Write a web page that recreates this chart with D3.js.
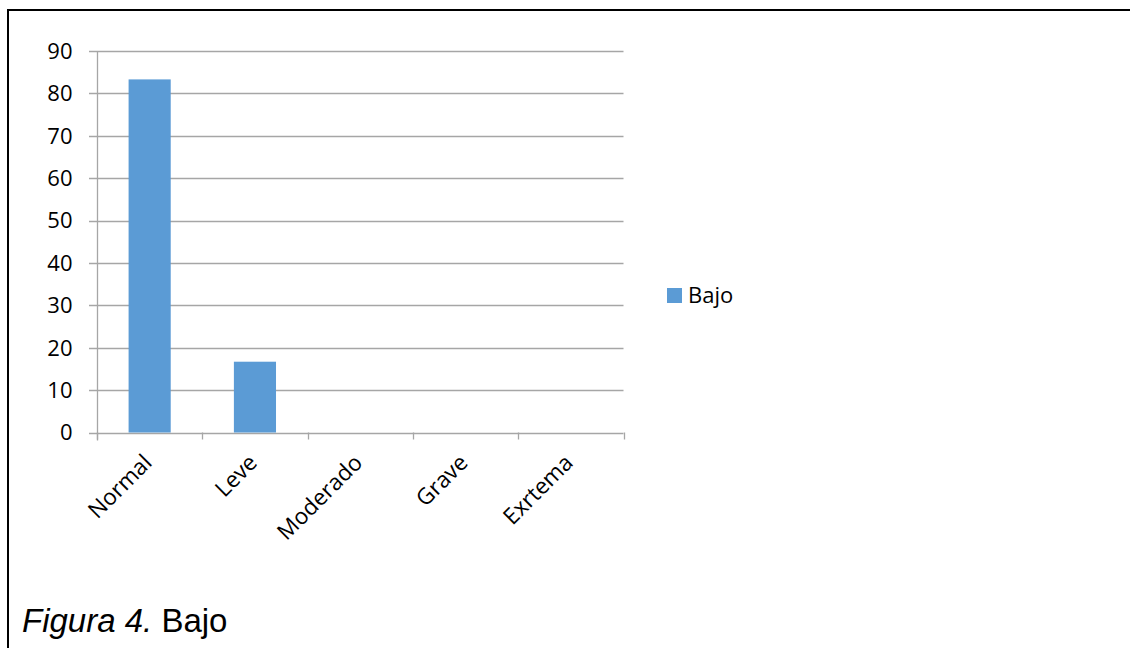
<!DOCTYPE html>
<html><head><meta charset="utf-8">
<script src="https://cdn.jsdelivr.net/npm/d3@7"></script>
<style>body{margin:0;background:#fff}svg{display:block}</style>
</head><body>
<svg id="c" width="1130" height="648"></svg>
<script>
const categories = ["Normal","Leve","Moderado","Grave","Exrtema"];
const values = [83.3, 16.7, 0, 0, 0];
const seriesName = "Bajo";
const yTicks = [0,10,20,30,40,50,60,70,80,90];
const caption = ["Figura 4.", " Bajo"];

(function(){
const svg = d3.select("#c");
const W = 1130, H = 648;
svg.append("rect").attr("width",W).attr("height",H).attr("fill","#fff");
// frame
svg.append("line").attr("x1",7).attr("x2",W).attr("y1",10).attr("y2",10).attr("stroke","#000").attr("stroke-width",2);
svg.append("line").attr("x1",8).attr("x2",8).attr("y1",9).attr("y2",H).attr("stroke","#000").attr("stroke-width",2);

const pL = 97, pR = 623.5, pT = 51, pB = 432.5;
const x = d3.scaleBand().domain(categories).range([pL,pR]).paddingInner(0.6).paddingOuter(0.3);
const y = d3.scaleLinear().domain([0,90]).range([pB,pT]);
const xb = d3.scaleBand().domain(categories).range([pL,pR]);

const font = "'Open Sans', sans-serif";
svg.append("g").selectAll("line").data(yTicks).join("line")
  .attr("x1",pL-8).attr("x2",pR).attr("y1",d=>Math.round(y(d))+0.5).attr("y2",d=>Math.round(y(d))+0.5)
  .attr("stroke","#a6a6a6").attr("stroke-width",1.3);
svg.append("line").attr("x1",pL+0.5).attr("x2",pL+0.5).attr("y1",pT).attr("y2",pB+8).attr("stroke","#a6a6a6").attr("stroke-width",1.3);
const xt = categories.map(c=>xb(c)).concat([pR]);
svg.append("g").selectAll("line").data(xt).join("line")
  .attr("x1",d=>Math.round(d)+0.5).attr("x2",d=>Math.round(d)+0.5).attr("y1",pB).attr("y2",pB+7)
  .attr("stroke","#a6a6a6").attr("stroke-width",1.3);
svg.append("g").selectAll("text").data(yTicks).join("text")
  .attr("x",72.5).attr("y",d=>y(d)).attr("dy","0.36em").attr("text-anchor","end")
  .attr("font-family",font).attr("font-size",22).attr("fill","#000").text(d=>d);
svg.append("g").selectAll("rect").data(values).join("rect")
  .attr("x",(d,i)=>x(categories[i])).attr("width",x.bandwidth())
  .attr("y",d=>y(d)).attr("height",d=>pB-y(d)).attr("fill","#5b9bd5");
svg.append("g").selectAll("text").data(categories).join("text")
  .attr("transform",d=>`translate(${xb(d)+xb.bandwidth()/2-2},${pB+26}) rotate(-45)`)
  .attr("text-anchor","end").attr("dy","0.35em")
  .attr("font-family",font).attr("font-size",22.5).attr("fill","#000").text(d=>d);
svg.append("rect").attr("x",667).attr("y",288).attr("width",15).attr("height",15).attr("fill","#5b9bd5");
svg.append("text").attr("x",688).attr("y",303).attr("font-family",font).attr("font-size",22).attr("fill","#000").text(seriesName);
const cap = svg.append("text").attr("x",22).attr("y",632).attr("font-family","'Liberation Sans', Arial, sans-serif").attr("font-size",33).attr("fill","#000");
cap.append("tspan").attr("font-style","italic").text(caption[0]);
cap.append("tspan").text(caption[1]);
})();
</script>
</body></html>
